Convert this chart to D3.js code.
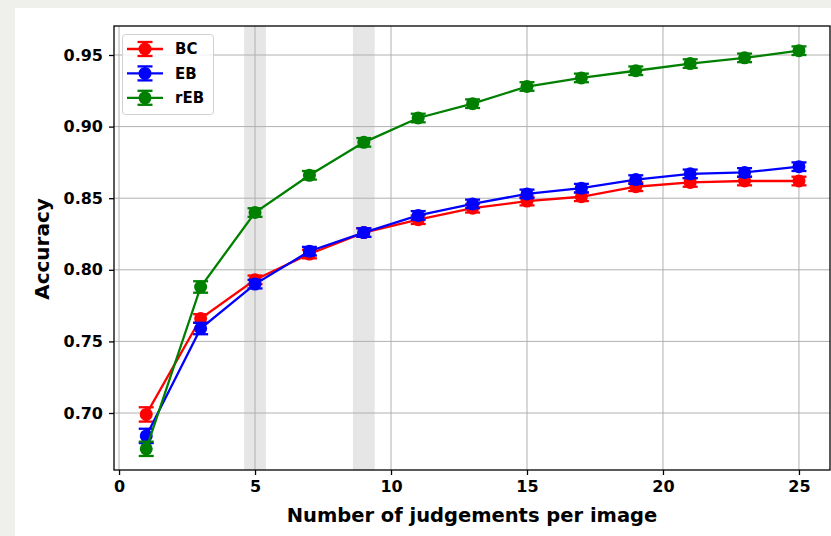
<!DOCTYPE html>
<html>
<head>
<meta charset="utf-8">
<script src="https://cdn.jsdelivr.net/npm/d3@7"></script>
<style>
  html, body { margin: 0; padding: 0; background: #efefec; }
  svg { display: block; }
  text { font-family: "DejaVu Sans", sans-serif; font-weight: bold; fill: #000; }
</style>
</head>
<body>
<svg id="chart" width="831" height="536"></svg>
<script>
// Number of judgements per image
const judgements = [1, 3, 5, 7, 9, 11, 13, 15, 17, 19, 21, 23, 25];

// Mean accuracy per method
const accBC  = [0.699, 0.766, 0.793, 0.811, 0.826, 0.835, 0.843, 0.848, 0.851, 0.858, 0.861, 0.862, 0.862];
const accEB  = [0.684, 0.759, 0.790, 0.813, 0.826, 0.838, 0.846, 0.853, 0.857, 0.863, 0.867, 0.868, 0.872];
const accREB = [0.675, 0.788, 0.840, 0.866, 0.889, 0.906, 0.916, 0.928, 0.934, 0.939, 0.944, 0.948, 0.953];

// Standard error per method
const errBC  = [0.005, 0.003, 0.003, 0.003, 0.003, 0.003, 0.003, 0.003, 0.003, 0.003, 0.003, 0.003, 0.003];
const errEB  = [0.005, 0.004, 0.003, 0.003, 0.003, 0.003, 0.003, 0.003, 0.003, 0.003, 0.003, 0.003, 0.003];
const errREB = [0.005, 0.004, 0.003, 0.003, 0.003, 0.003, 0.003, 0.003, 0.003, 0.003, 0.003, 0.003, 0.003];

const seriesNames  = ["BC", "EB", "rEB"];
const seriesColors = ["#ff0000", "#0000ff", "#008000"];

// Highlighted judgement ranges
const bandStarts = [4.6, 8.6];
const bandEnds   = [5.4, 9.4];

const xTicks = [0, 5, 10, 15, 20, 25];
const yTicks = [0.70, 0.75, 0.80, 0.85, 0.90, 0.95];

const svg = d3.select("#chart");

// white figure canvas
svg.append("rect").attr("x", 15).attr("y", 8).attr("width", 816).attr("height", 528).attr("fill", "#ffffff");

const plot = { left: 114, right: 830, top: 26, bottom: 470 };

const x = d3.scaleLinear().domain([-0.2, 26.2]).range([113.6, 831.6]);
const y = d3.scaleLinear().domain([0.70, 0.95]).range([413, 55]);

const g = svg.append("g");

// clip to axes area
svg.append("clipPath").attr("id", "clip").append("rect")
  .attr("x", plot.left).attr("y", plot.top)
  .attr("width", plot.right - plot.left).attr("height", plot.bottom - plot.top);

const inner = g.append("g").attr("clip-path", "url(#clip)");

// shaded bands
inner.selectAll("rect.band").data(bandStarts).enter().append("rect")
  .attr("class", "band")
  .attr("x", (d) => x(d))
  .attr("width", (d, i) => x(bandEnds[i]) - x(d))
  .attr("y", plot.top).attr("height", plot.bottom - plot.top)
  .attr("fill", "#808080").attr("fill-opacity", 0.2);

// grid
inner.selectAll("line.gx").data(xTicks).enter().append("line")
  .attr("x1", (d) => x(d)).attr("x2", (d) => x(d))
  .attr("y1", plot.top).attr("y2", plot.bottom)
  .attr("stroke", "#b0b0b0").attr("stroke-width", 1);
inner.selectAll("line.gy").data(yTicks).enter().append("line")
  .attr("y1", (d) => y(d)).attr("y2", (d) => y(d))
  .attr("x1", plot.left).attr("x2", plot.right)
  .attr("stroke", "#b0b0b0").attr("stroke-width", 1);

// series
const series = [
  { name: seriesNames[0], color: seriesColors[0], acc: accBC, err: errBC },
  { name: seriesNames[1], color: seriesColors[1], acc: accEB, err: errEB },
  { name: seriesNames[2], color: seriesColors[2], acc: accREB, err: errREB }
];

const line = d3.line().x((d) => x(d[0])).y((d) => y(d[1]));
const capHalf = 7.5;

series.forEach((s) => {
  const pts = judgements.map((j, i) => [j, s.acc[i], s.err[i]]);
  const sg = inner.append("g");
  sg.append("path").datum(pts).attr("d", line)
    .attr("fill", "none").attr("stroke", s.color).attr("stroke-width", 2.3);
  // error bars
  sg.selectAll("line.eb").data(pts).enter().append("line")
    .attr("x1", (d) => x(d[0])).attr("x2", (d) => x(d[0]))
    .attr("y1", (d) => y(d[1] - d[2])).attr("y2", (d) => y(d[1] + d[2]))
    .attr("stroke", s.color).attr("stroke-width", 2.3);
  ["lo", "hi"].forEach((k) => {
    sg.selectAll("line.cap" + k).data(pts).enter().append("line")
      .attr("x1", (d) => x(d[0]) - capHalf).attr("x2", (d) => x(d[0]) + capHalf)
      .attr("y1", (d) => y(k === "lo" ? d[1] - d[2] : d[1] + d[2]))
      .attr("y2", (d) => y(k === "lo" ? d[1] - d[2] : d[1] + d[2]))
      .attr("stroke", s.color).attr("stroke-width", 2.3);
  });
  sg.selectAll("circle").data(pts).enter().append("circle")
    .attr("cx", (d) => x(d[0])).attr("cy", (d) => y(d[1])).attr("r", 6.5)
    .attr("fill", s.color);
});

// spines
g.append("rect").attr("x", plot.left).attr("y", plot.top)
  .attr("width", plot.right - plot.left).attr("height", plot.bottom - plot.top)
  .attr("fill", "none").attr("stroke", "#000").attr("stroke-width", 1.3);

// axes
const xAxis = d3.axisBottom(x).tickValues(xTicks).tickFormat(d3.format("d")).tickSizeInner(5).tickSizeOuter(0).tickPadding(5);
const yAxis = d3.axisLeft(y).tickValues(yTicks).tickFormat(d3.format(".2f")).tickSizeInner(5).tickSizeOuter(0).tickPadding(6);

const gx = g.append("g").attr("transform", `translate(0,${plot.bottom})`).call(xAxis);
const gy = g.append("g").attr("transform", `translate(${plot.left},0)`).call(yAxis);
[gx, gy].forEach((a) => {
  a.select(".domain").remove();
  a.selectAll("text").attr("font-size", 16).attr("font-family", "DejaVu Sans").attr("font-weight", "bold").attr("fill", "#000");
  a.selectAll("line").attr("stroke", "#000").attr("stroke-width", 1.3);
});
gx.selectAll("text").attr("dy", "0.72em");

// axis titles
g.append("text").attr("x", 472).attr("y", 522).attr("text-anchor", "middle")
  .attr("font-size", 19.5).text("Number of judgements per image");
g.append("text").attr("transform", "translate(49,249) rotate(-90)").attr("text-anchor", "middle")
  .attr("font-size", 20).text("Accuracy");

// legend
const lg = g.append("g");
lg.append("rect").attr("x", 122.5).attr("y", 34.5).attr("width", 91).attr("height", 80).attr("rx", 3)
  .attr("fill", "#fff").attr("fill-opacity", 0.8).attr("stroke", "#d0d0d0").attr("stroke-width", 1);
series.forEach((s, i) => {
  const cy = 49 + i * 24.4;
  lg.append("line").attr("x1", 127).attr("x2", 163).attr("y1", cy).attr("y2", cy).attr("stroke", s.color).attr("stroke-width", 2.3);
  lg.append("line").attr("x1", 145).attr("x2", 145).attr("y1", cy - 7).attr("y2", cy + 7).attr("stroke", s.color).attr("stroke-width", 2.3);
  [cy - 7, cy + 7].forEach((cyy) => {
    lg.append("line").attr("x1", 137.5).attr("x2", 152.5).attr("y1", cyy).attr("y2", cyy).attr("stroke", s.color).attr("stroke-width", 2.3);
  });
  lg.append("circle").attr("cx", 145).attr("cy", cy).attr("r", 6.5).attr("fill", s.color);
  lg.append("text").attr("x", 175).attr("y", cy).attr("dy", "0.36em").attr("font-size", 15).text(s.name);
});
</script>
</body>
</html>
